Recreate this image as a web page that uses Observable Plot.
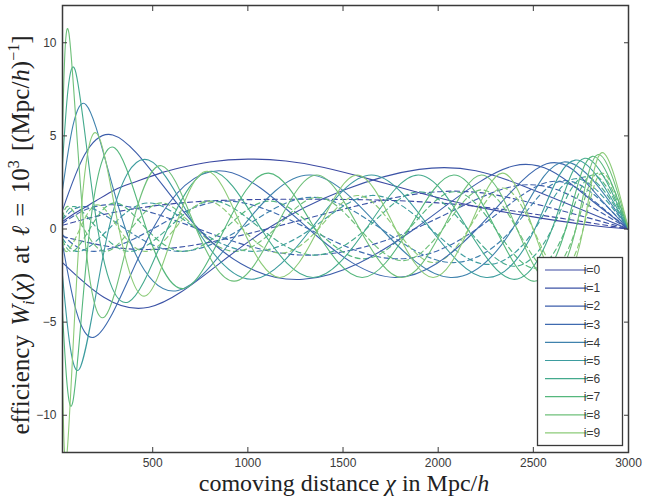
<!DOCTYPE html>
<html>
<head>
<meta charset="utf-8">
<script src="https://cdn.jsdelivr.net/npm/d3@7"></script>
<script src="https://cdn.jsdelivr.net/npm/@observablehq/plot@0.6"></script>
<style>
  html, body { margin: 0; padding: 0; background: #fff; }
  svg { display: block; }
</style>
</head>
<body>
<div id="chart"></div>
<script>
// Mode labels and their line colours (blue for low i, green for high i)
const modes = ["i=0", "i=1", "i=2", "i=3", "i=4", "i=5", "i=6", "i=7", "i=8", "i=9"];
const colors = ["#3b49a2", "#3c53a6", "#3d5eab", "#3e6aaf", "#3f82ad",
                "#3d9c9f", "#44aa8d", "#55b77c", "#6fc07a", "#8ccb78"];

// Solid curves: [comoving distance chi (Mpc/h), efficiency W_i]
const solid0 = [[26,0.4],[100,0.9],[200,1.5],[300,2.1],[400,2.5],[540,3.0],[650,3.3],[800,3.6],[1000,3.75],[1200,3.65],[1400,3.3],[1650,2.65],[1900,1.95],[2200,1.2],[2500,0.65],[2800,0.2],[3000,0]];
const solid1 = [[26,-1.8],[480,-4.2],[1100,0],[1900,3.2],[2450,2.3],[3000,0]];
const solid2 = [[26,1.0],[290,5.05],[741,0],[1290,-2.7],[1875,0],[2400,3.4],[2750,2.0],[3000,0]];
const solid3 = [[26,-0.8],[195,-5.8],[500,0],[880,3.1],[1320,0],[1773,-2.6],[2203,0],[2570,3.5],[2820,2.0],[3000,0]];
const solid4 = [[26,2.1],[150,6.67],[357,0],[633,-3.3],[963,0],[1327,2.9],[1702,0],[2065,-2.6],[2390,0],[2660,3.6],[3000,0]];
const solid5 = [[26,-2.5],[116,-7.5],[269,0],[478,3.7],[732,0],[1022,-2.7],[1332,0],[1650,2.9],[1961,0],[2252,-2.6],[2508,0],[2720,3.7],[3000,0]];
const solid6 = [[26,3.5],[92,8.55],[211,0],[375,-3.9],[577,0],[812,3.1],[1070,0],[1343,-2.6],[1621,0],[1895,2.9],[2155,0],[2394,-2.7],[2598,0],[2770,3.8],[3000,0]];
const solid7 = [[26,-4.5],[80,-9.3],[169,0],[301,4.35],[467,0],[660,-3.2],[877,0],[1109,3.0],[1353,0],[1601,-2.6],[1846,0],[2082,2.9],[2302,0],[2499,-2.8],[2670,0],[2810,3.9],[3000,0]];
const solid8 = [[26,5.3],[60,10.5],[139,0],[249,-4.7],[386,0],[546,3.4],[729,0],[929,-2.8],[1142,0],[1362,2.9],[1587,0],[1809,-2.6],[2024,0],[2227,2.9],[2414,0],[2580,-2.8],[2723,0],[2840,4.0],[3000,0]];
const solid9 = [[26,-8],[51,-11.9],[117,0],[209,5.1],[323,0],[459,-3.6],[615,0],[788,3.1],[973,0],[1168,-2.6],[1370,0],[1574,2.9],[1776,0],[1973,-2.6],[2160,0],[2337,3.0],[2499,0],[2641,-2.9],[2762,0],[2860,4.1],[3000,0]];

// Dashed curves: same modes, second set of efficiencies
const dashed0 = [[26,0.2],[300,0.9],[600,1.35],[900,1.55],[1300,1.6],[1700,1.55],[2000,1.4],[2300,1.1],[2600,0.65],[2850,0.25],[3000,0]];
const dashed1 = [[26,-0.4],[480,-1.1],[1100,0],[1900,1.9],[2450,1.5],[3000,0]];
const dashed2 = [[26,0.3],[290,1.3],[741,0],[1290,-1.4],[1875,0],[2400,2.3],[2750,1.5],[3000,0]];
const dashed3 = [[26,-0.3],[195,-1.2],[500,0],[880,1.5],[1320,0],[1773,-1.6],[2203,0],[2570,2.5],[2820,1.5],[3000,0]];
const dashed4 = [[26,0.5],[150,1.2],[357,0],[633,-1.2],[963,0],[1327,1.7],[1702,0],[2065,-1.8],[2390,0],[2660,2.6],[3000,0]];
const dashed5 = [[26,-0.5],[116,-1.2],[269,0],[478,1.4],[732,0],[1022,-1.2],[1332,0],[1650,1.8],[1961,0],[2252,-1.9],[2508,0],[2720,2.7],[3000,0]];
const dashed6 = [[26,0.5],[92,1.2],[211,0],[375,-1.2],[577,0],[812,1.5],[1070,0],[1343,-1.4],[1621,0],[1895,2.0],[2155,0],[2394,-2.0],[2598,0],[2770,2.8],[3000,0]];
const dashed7 = [[26,-0.6],[80,-1.2],[169,0],[301,1.4],[467,0],[660,-1.2],[877,0],[1109,1.5],[1353,0],[1601,-1.6],[1846,0],[2082,2.0],[2302,0],[2499,-2.1],[2670,0],[2810,2.9],[3000,0]];
const dashed8 = [[26,0.6],[60,1.2],[139,0],[249,-1.2],[386,0],[546,1.4],[729,0],[929,-1.2],[1142,0],[1362,1.7],[1587,0],[1809,-1.7],[2024,0],[2227,2.1],[2414,0],[2580,-2.2],[2723,0],[2840,3.0],[3000,0]];
const dashed9 = [[26,-0.6],[51,-1.2],[117,0],[209,1.3],[323,0],[459,-1.2],[615,0],[788,1.5],[973,0],[1168,-1.3],[1370,0],[1574,1.8],[1776,0],[1973,-1.8],[2160,0],[2337,2.2],[2499,0],[2641,-2.3],[2762,0],[2860,3.0],[3000,0]];

const xTicks = [500, 1000, 1500, 2000, 2500, 3000];
const yTicks = [-10, -5, 0, 5, 10];

const solidSeries = [solid0, solid1, solid2, solid3, solid4, solid5, solid6, solid7, solid8, solid9];
const dashedSeries = [dashed0, dashed1, dashed2, dashed3, dashed4, dashed5, dashed6, dashed7, dashed8, dashed9];

const toRows = (series) => series.flatMap((pts, i) => pts.map(([chi, w]) => ({mode: modes[i], chi, w})));
const solidRows = toRows(solidSeries);
const dashedRows = toRows(dashedSeries);

const W = 645, H = 496;
const mL = 62, mR = 17, mT = 5, mB = 44;
const ink = "#3a3a3a";

const chart = Plot.plot({
  width: W, height: H,
  marginLeft: mL, marginRight: mR, marginTop: mT, marginBottom: mB,
  style: {fontFamily: "'Liberation Sans', Arial, Helvetica, sans-serif", fontSize: "12px", color: ink, background: "#fff"},
  x: {domain: [26, 3000]},
  y: {domain: [-12, 12]},
  color: {type: "ordinal", domain: modes, range: colors},
  marks: [
    Plot.line(dashedRows, {x: "chi", y: "w", z: "mode", stroke: "mode", strokeWidth: 1.15, strokeDasharray: "5,3.5", curve: "natural", clip: true}),
    Plot.line(solidRows, {x: "chi", y: "w", z: "mode", stroke: "mode", strokeWidth: 1.1, curve: "natural", clip: true}),
    // tick labels
    Plot.axisX(xTicks, {anchor: "bottom", tickSize: 0, tickPadding: 6, tickFormat: d3.format("d"), label: null}),
    Plot.axisY(yTicks, {anchor: "left", tickSize: 0, tickPadding: 6, label: null}),
    // inward ticks on all four sides
    Plot.axisX(xTicks, {anchor: "bottom", tickSize: -5, tickFormat: () => "", label: null, stroke: ink}),
    Plot.axisX(xTicks, {anchor: "top", tickSize: -5, tickFormat: () => "", label: null, stroke: ink}),
    Plot.axisY(yTicks, {anchor: "left", tickSize: -5, tickFormat: () => "", label: null, stroke: ink}),
    Plot.axisY(yTicks, {anchor: "right", tickSize: -5, tickFormat: () => "", label: null, stroke: ink}),
    Plot.frame({stroke: ink, strokeWidth: 1.5})
  ]
});

const svg = d3.select(chart);
const serif = "'Liberation Serif', 'Times New Roman', Times, serif";

// x-axis title
const xt = svg.append("text")
  .attr("x", 344).attr("y", 491)
  .attr("text-anchor", "middle").attr("font-family", serif).attr("font-size", 24).attr("fill", "#222");
xt.append("tspan").text("comoving distance ");
xt.append("tspan").attr("font-style", "italic").text("χ");
xt.append("tspan").text(" in Mpc/");
xt.append("tspan").attr("font-style", "italic").text("h");

// y-axis title
const yt = svg.append("text")
  .attr("transform", `translate(29,235) rotate(-90)`)
  .attr("text-anchor", "middle").attr("font-family", serif).attr("font-size", 25)
  .attr("word-spacing", 3).attr("fill", "#222");
yt.append("tspan").text("efficiency ");
yt.append("tspan").attr("font-style", "italic").text("W");
yt.append("tspan").attr("font-style", "italic").attr("font-size", 16).attr("dy", 5).text("i");
yt.append("tspan").attr("dy", -5).text("(");
yt.append("tspan").attr("font-style", "italic").text("χ");
yt.append("tspan").text(") at ");
yt.append("tspan").attr("font-style", "italic").text("ℓ");
yt.append("tspan").text(" = 10");
yt.append("tspan").attr("font-size", 16).attr("dy", -10).text("3");
yt.append("tspan").attr("dy", 10).text(" [(Mpc/");
yt.append("tspan").attr("font-style", "italic").text("h");
yt.append("tspan").text(")");
yt.append("tspan").attr("font-size", 16).attr("dy", -10).text("−1");
yt.append("tspan").attr("dy", 10).text("]");

// legend box
const lg = svg.append("g").attr("font-family", "'Liberation Sans', Arial, sans-serif").attr("font-size", 12);
lg.append("rect").attr("x", 537.5).attr("y", 257.5).attr("width", 85).attr("height", 188)
  .attr("fill", "#fff").attr("stroke", ink).attr("stroke-width", 1.3);
modes.forEach((m, k) => {
  const y = 270 + k * 18.1;
  lg.append("line").attr("x1", 545).attr("x2", 588).attr("y1", y).attr("y2", y)
    .attr("stroke", colors[k]).attr("stroke-width", 1.2);
  lg.append("text").attr("x", 592).attr("y", y).attr("dy", "0.35em").attr("fill", ink).text(m);
});

document.getElementById("chart").appendChild(chart);
</script>
</body>
</html>
